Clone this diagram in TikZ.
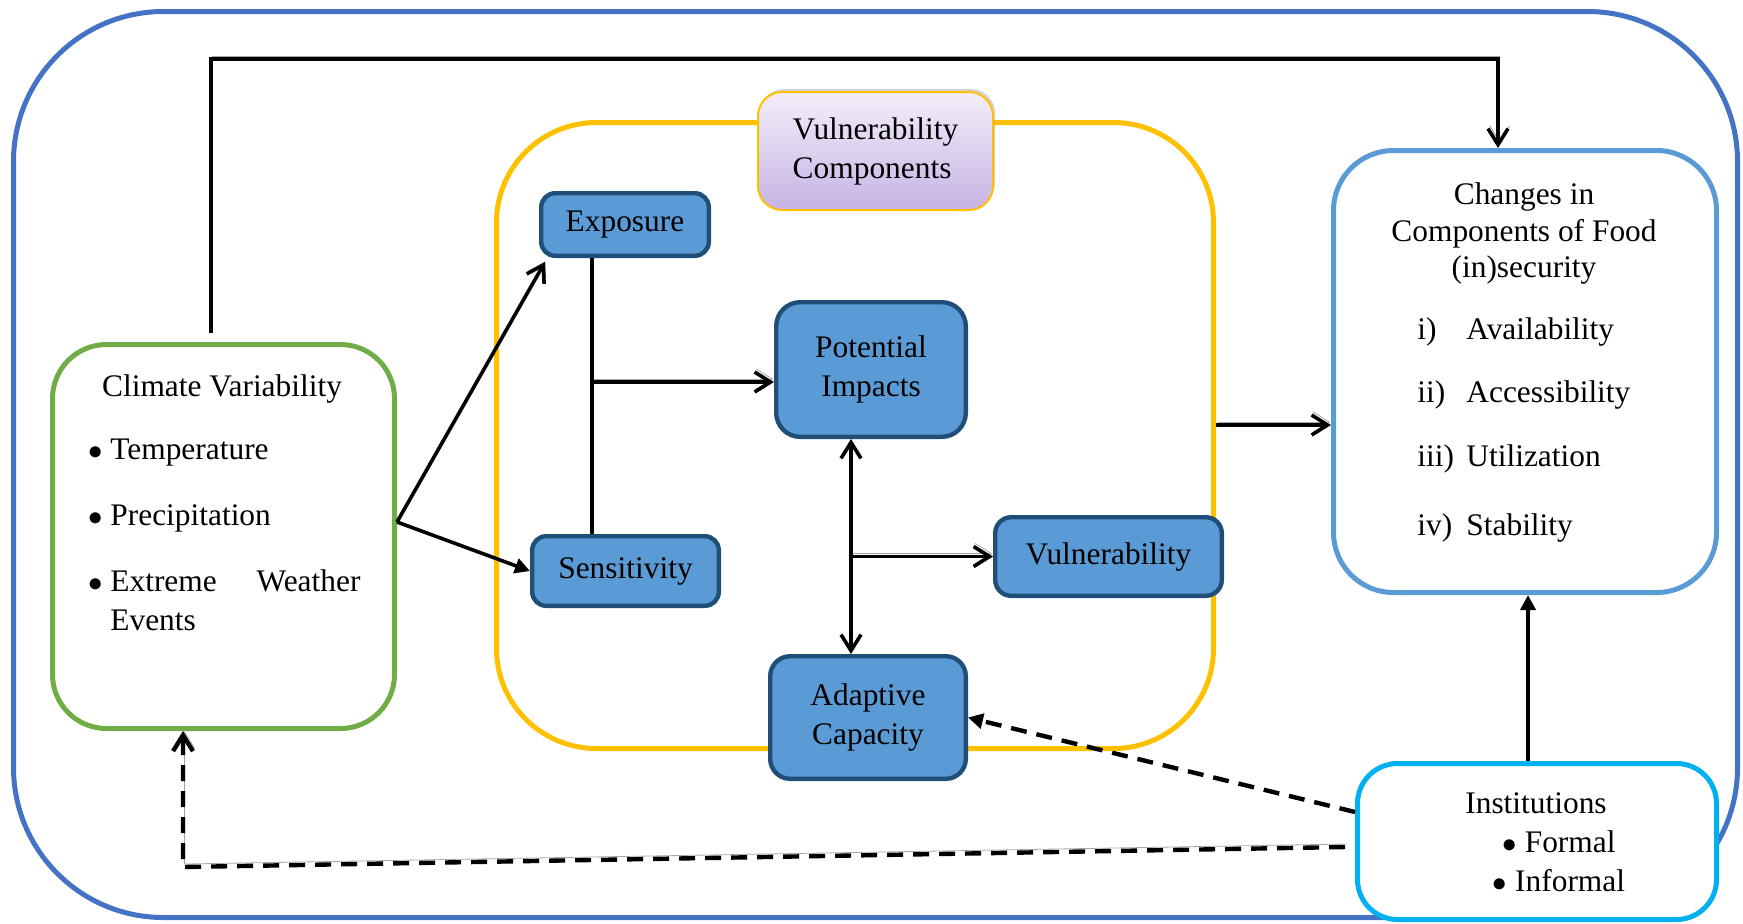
\documentclass[tikz,border=0pt]{standalone}
\usepackage{fontspec}
\setmainfont{Liberation Serif}
\usepackage{tikz}
\usetikzlibrary{arrows.meta,calc,shadows}

\definecolor{frameblue}{HTML}{4472C4}
\definecolor{cvgreen}{HTML}{70AD47}
\definecolor{compyellow}{HTML}{FFC000}
\definecolor{boxfill}{HTML}{5B9BD5}
\definecolor{boxline}{HTML}{1F4E79}
\definecolor{fsblue}{HTML}{5B9BD5}
\definecolor{instcyan}{HTML}{00B0F0}
\definecolor{vctop}{HTML}{F3EEFA}
\definecolor{vcbot}{HTML}{C6B3E4}

\begin{document}
\begin{tikzpicture}[x=0.5pt,y=0.5pt,yscale=-1,xscale=1,
  every node/.style={font=\fontsize{15.7}{19.5}\selectfont, inner sep=0pt},
  vbox/.style={draw=boxline, line width=2.2pt, fill=boxfill, rounded corners=7pt, align=center},
  openarrow/.style={line width=1.8pt, -{Straight Barb[length=8pt,width=10pt]}},
  fillarrow/.style={line width=1.8pt, -{Triangle[length=7.5pt,width=7.5pt]}},
  shadowed/.style={preaction={draw=black!35, transform canvas={xshift=0.8pt,yshift=1.5pt}}},
  dashline/.style={line width=2.2pt, dash pattern=on 8pt off 5pt}
]
\useasboundingbox (0,0) rectangle (1743,923);

% Outer frame
\draw [frameblue, line width=2.5pt, rounded corners=75pt] (13.5,11.5) rectangle (1737.5,917.5);

% Vulnerability components frame
\node [draw=compyellow, line width=2.5pt, rounded corners=50pt, minimum width=358.5pt, minimum height=313pt] (comp) at (855,435.5) {};

% Climate variability
\node [draw=cvgreen, line width=2.5pt, rounded corners=27pt, minimum width=171pt, minimum height=192pt] (climate) at (223.5,536.5) {};
\node (cvtitle) at (222,389) {Climate Variability};
\node [anchor=base west] (cvtemp) at (88,459) {\makebox[11pt][l]{$\bullet$}Temperature};
\node [anchor=base west] (cvprec) at (88,525) {\makebox[11pt][l]{$\bullet$}Precipitation};
\node [anchor=base west, text width=136pt, align=left] (cvext) at (88,591) {\makebox[11pt][l]{$\bullet$}Extreme\hfill Weather\\\hspace*{11pt}Events};

% Food (in)security
\node [draw=fsblue, line width=2.5pt, rounded corners=30pt, minimum width=191.5pt, minimum height=221pt] (changes) at (1525,371.5) {};
\node [align=center, font=\fontsize{15.7}{18.3}\selectfont] (fstitle) at (1524,233.5) {Changes in\\Components of Food\\(in)security};
\node [anchor=base west] (fsla) at (1417,339) {i)};
\node [anchor=base west] (fsia) at (1466,339) {Availability};
\node [anchor=base west] (fslb) at (1417,402) {ii)};
\node [anchor=base west] (fsib) at (1466,402) {Accessibility};
\node [anchor=base west] (fslc) at (1417,466) {iii)};
\node [anchor=base west] (fsic) at (1466,466) {Utilization};
\node [anchor=base west] (fsld) at (1417,535) {iv)};
\node [anchor=base west] (fsid) at (1466,535) {Stability};

% Institutions
\node [draw=instcyan, line width=2.5pt, rounded corners=20pt, fill=white, minimum width=179.5pt, minimum height=78pt] (inst) at (1537,841.5) {};
\node [align=center] (insttxt) at (1536,842.5) {Institutions\\\hspace*{23pt}$\bullet$ Formal\\\hspace*{23pt}$\bullet$ Informal};

% Components
\node [vbox, minimum width=83.8pt, minimum height=31.3pt] (exposure) at (625,224.5) {Exposure};
\node [vbox, rounded corners=12pt, minimum width=94.8pt, minimum height=67.3pt] (impacts) at (871,369.5) {Potential\\Impacts};
\node [vbox, minimum width=93.3pt, minimum height=34.8pt] (sensitivity) at (625.5,571) {Sensitivity};
\node [vbox, rounded corners=8pt, minimum width=113.3pt, minimum height=39.3pt] (vulner) at (1108.5,556.5) {Vulnerability};
\node [vbox, rounded corners=10pt, minimum width=97.8pt, minimum height=61.3pt] (adaptive) at (868,717.5) {Adaptive\\Capacity};
\node [draw=compyellow, line width=1pt, rounded corners=12pt, top color=vctop, bottom color=vcbot, drop shadow={shadow xshift=1pt, shadow yshift=1.5pt, fill=black!35}, minimum width=117.5pt, minimum height=59pt, align=left] (vulcomp) at (875.5,151) {Vulnerability\\Components};

% Connectors
\coordinate (topr) at (1498,59);
\draw [openarrow, shadowed] ($(climate.north)+(-12.5,-9)$) |- (topr) -- (changes.north -| topr);
\coordinate (fork) at (397,522);
\draw [openarrow, shadowed] (fork) -- ($(exposure.south west)+(6,4)$);
\draw [fillarrow] (fork) -- (sensitivity.west);
\coordinate (spine) at ($(exposure.south)+(-33,0)$);
\draw [line width=1.8pt] (spine) -- (spine |- sensitivity.north);
\coordinate (impin) at ($(impacts.west)+(0,12.5)$);
\draw [openarrow, shadowed] (spine |- impin) -- (impin);
\coordinate (axis) at ($(impacts.south)+(-20,0)$);
\draw [line width=1.8pt, {Straight Barb[length=8pt,width=10pt]}-{Straight Barb[length=8pt,width=10pt]}] (axis) -- (axis |- adaptive.north);
\draw [openarrow, shadowed] (axis |- vulner.west) -- (vulner.west);
\coordinate (compout) at ($(comp.east)+(0,-10.5)$);
\draw [openarrow, shadowed] (compout) -- (compout -| changes.west);
\coordinate (instup) at ($(inst.north)+(-9,0)$);
\draw [fillarrow] (instup) -- (instup |- changes.south);
\draw [fillarrow, dashline] ($(inst.west)+(0,-29.5)$) -- (adaptive.east);
\coordinate (retc) at (183,867);
\draw [openarrow, dashline, shadowed] ($(inst.west)+(-10,5.5)$) -- (retc) -- (retc |- climate.south);

\end{tikzpicture}
\end{document}
